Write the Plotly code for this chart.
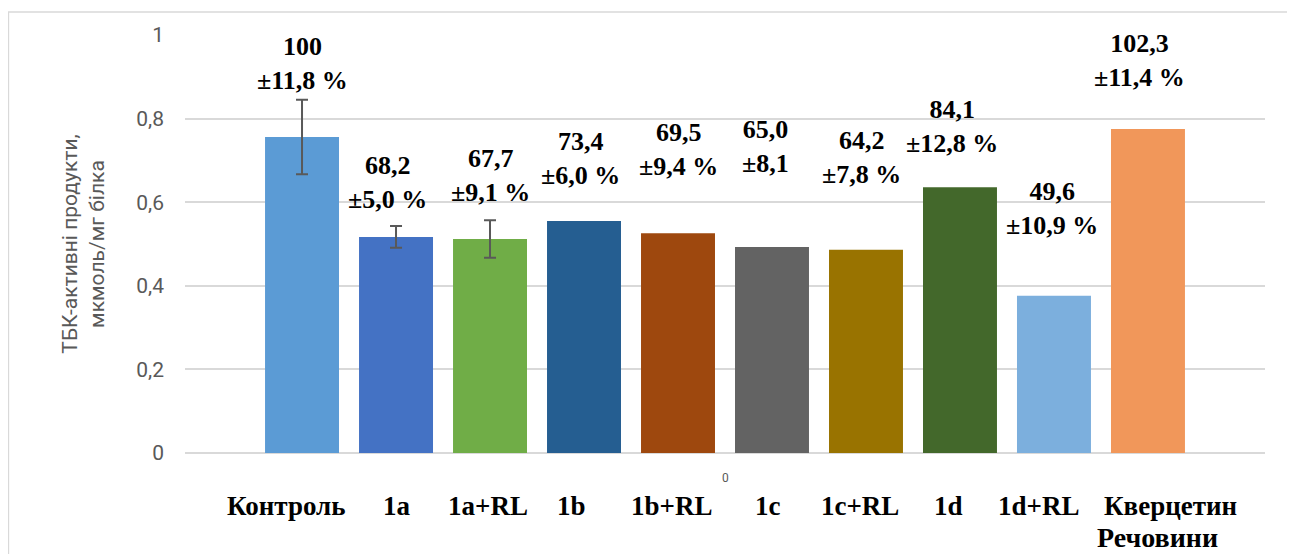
import plotly.graph_objects as go

categories = ["Контроль", "1a", "1a+RL", "1b", "1b+RL", "1c", "1c+RL", "1d", "1d+RL", "Кверцетин"]
values = [0.756, 0.517, 0.512, 0.555, 0.526, 0.493, 0.486, 0.636, 0.376, 0.775]
err_categories = ["Контроль", "1a", "1a+RL"]
err_values = [0.756, 0.517, 0.512]
errors = [0.089, 0.026, 0.045]
pct_values = ["100", "68,2", "67,7", "73,4", "69,5", "65,0", "64,2", "84,1", "49,6", "102,3"]
pct_errors = ["±11,8 %", "±5,0 %", "±9,1 %", "±6,0 %", "±9,4 %", "±8,1", "±7,8 %", "±12,8 %", "±10,9 %", "±11,4 %"]
colors = ["#5B9BD5", "#4472C4", "#70AD47", "#255E91", "#9E480E",
          "#636363", "#997300", "#43682B", "#7CAFDD", "#F1975A"]

# label block positions (data units) and horizontal nudges (px)
label_y = [0.931, 0.646, 0.663, 0.705, 0.725, 0.734, 0.706, 0.780, 0.585, 0.940]
label_dx = [0, -9, 0, -4, 0, -7, -4, -8, -2, -8]
cat_label_dx = [-16, 1, -2, -13, -7, -4, -6, -11, -15, 23]

fig = go.Figure()
fig.add_trace(go.Bar(
    x=categories, y=values,
    marker=dict(color=colors, line=dict(width=0)),
    showlegend=False, hoverinfo="x+y",
))
fig.add_trace(go.Scatter(
    x=err_categories, y=err_values, mode="markers",
    marker=dict(size=1, opacity=0),
    error_y=dict(type="data", array=errors, visible=True,
                 color="#595959", thickness=2, width=6),
    showlegend=False, hoverinfo="skip",
))

for c, y, dx, v, e in zip(categories, label_y, label_dx, pct_values, pct_errors):
    fig.add_annotation(x=c, y=y, xref="x", yref="y", xshift=dx,
                       text=f"<b>{v}</b><br><b>{e}</b>", showarrow=False,
                       align="center",
                       font=dict(family="Liberation Serif", size=26, color="#000000"))

for c, dx in zip(categories, cat_label_dx):
    fig.add_annotation(x=c, y=-0.127, xref="x", yref="paper", xshift=dx,
                       xanchor="center", yanchor="middle",
                       text=f"<b>{c}</b>", showarrow=False,
                       font=dict(family="Liberation Serif", size=27, color="#000000"))

fig.add_annotation(x=0.9, y=-0.201, xref="paper", yref="paper",
                   xanchor="center", yanchor="middle",
                   text="<b>Речовини</b>", showarrow=False,
                   font=dict(family="Liberation Serif", size=28, color="#000000"))
fig.add_annotation(x=0.5, y=-0.060, xref="paper", yref="paper",
                   xanchor="center", yanchor="middle",
                   text="0", showarrow=False,
                   font=dict(family="Roboto", size=12, color="#595959"))

fig.add_shape(type="rect", xref="paper", yref="paper",
              x0=-0.1635, x1=1.04, y0=-0.3, y1=1.055,
              line=dict(color="#D9D9D9", width=1.5), layer="below")

fig.update_layout(
    width=1287, height=546,
    margin=dict(l=177, r=30, t=27, b=101),
    paper_bgcolor="white", plot_bgcolor="white",
    separators=", ",
    bargap=0.213,
    xaxis=dict(range=[-1.245, 10.245], showgrid=False, zeroline=False,
               showline=False, ticks="", showticklabels=False,
               automargin=False),
    yaxis=dict(range=[0, 1], dtick=0.2, showgrid=True, gridcolor="#D9D9D9",
               gridwidth=1.5, zeroline=True, zerolinecolor="#D9D9D9",
               zerolinewidth=1.5, showline=False, automargin=False,
               tickfont=dict(family="Roboto", size=21, color="#595959"),
               ticklabelstandoff=20,
               title=dict(text="ТБК-активні продукти,<br>мкмоль/мг білка",
                          font=dict(family="Roboto", size=21, color="#595959"),
                          standoff=25)),
)
fig.update_traces(cliponaxis=False)

fig.write_html("out.html")
